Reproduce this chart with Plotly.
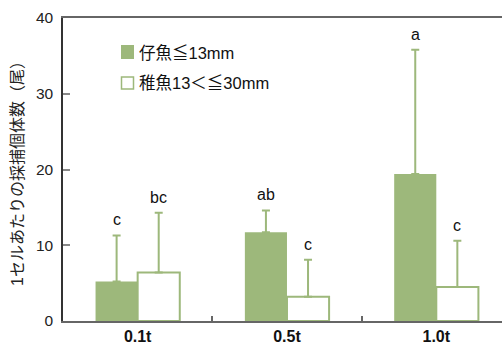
import plotly.graph_objects as go

categories = ["0.1t", "0.5t", "1.0t"]
larva_vals = [5.2, 11.7, 19.4]
larva_err = [6.1, 2.9, 16.4]
juv_vals = [6.4, 3.2, 4.5]
juv_err = [7.9, 4.9, 6.1]
larva_letters = ["c", "ab", "a"]
juv_letters = ["bc", "c", "c"]
series_names = ["仔魚≦13mm", "稚魚13＜≦30mm"]
y_ticks = [0, 10, 20, 30, 40]

GREEN = "#9db87b"
FONT = "Liberation Sans, Noto Sans CJK JP, sans-serif"

# plot area in pixels (for placing the hand-drawn legend)
L, R, T, B = 63, 502, 18, 321
def px(x):
    return (x - L) / (R - L)
def py(y):
    return (B - y) / (B - T)

fig = go.Figure()
fig.add_trace(go.Bar(
    x=categories, y=larva_vals, name=series_names[0], showlegend=False,
    marker=dict(color=GREEN, line=dict(color=GREEN, width=0)),
    error_y=dict(type="data", array=larva_err, arrayminus=[0]*3, symmetric=False,
                 color=GREEN, thickness=2, width=4),
))
fig.add_trace(go.Bar(
    x=categories, y=juv_vals, name=series_names[1], showlegend=False,
    marker=dict(color="white", line=dict(color=GREEN, width=2)),
    error_y=dict(type="data", array=juv_err, arrayminus=[0]*3, symmetric=False,
                 color=GREEN, thickness=2, width=4),
))

for i, c in enumerate(categories):
    fig.add_annotation(x=c, y=larva_vals[i] + larva_err[i], text=larva_letters[i],
                       xshift=-21, yshift=5, yanchor="bottom", showarrow=False,
                       font=dict(size=16, color="#111", family=FONT))
    fig.add_annotation(x=c, y=juv_vals[i] + juv_err[i], text=juv_letters[i],
                       xshift=21, yshift=5, yanchor="bottom", showarrow=False,
                       font=dict(size=16, color="#111", family=FONT))

# hand-drawn legend
fig.add_shape(type="rect", xref="paper", yref="paper",
              x0=px(121), x1=px(134), y0=py(59), y1=py(45),
              fillcolor=GREEN, line=dict(width=0))
fig.add_shape(type="rect", xref="paper", yref="paper",
              x0=px(121.5), x1=px(133.5), y0=py(89), y1=py(77),
              fillcolor="white", line=dict(color=GREEN, width=1.5))
fig.add_annotation(xref="paper", yref="paper", x=px(137), y=py(53), text=series_names[0],
                   xanchor="left", yanchor="middle", showarrow=False,
                   font=dict(size=16.5, color="#111", family=FONT))
fig.add_annotation(xref="paper", yref="paper", x=px(137), y=py(83), text=series_names[1],
                   xanchor="left", yanchor="middle", showarrow=False,
                   font=dict(size=16.5, color="#111", family=FONT))

fig.update_layout(
    width=502, height=347,
    margin=dict(l=L, r=502 - R, t=T, b=347 - B, autoexpand=False),
    paper_bgcolor="white", plot_bgcolor="white",
    barmode="group", bargap=0.436, bargroupgap=0,
    font=dict(family=FONT, color="#111"),
    showlegend=False,
    xaxis=dict(
        type="category", range=[-0.5, 2.44], automargin=False,
        showline=True, linecolor="#666", linewidth=2, mirror=True,
        ticks="inside", tickson="boundaries", ticklen=5, tickcolor="#666", tickwidth=1.5,
        tickfont=dict(size=16, family=FONT, color="#111", weight="bold"),
        showgrid=False, zeroline=False,
    ),
    yaxis=dict(
        range=[0, 40], tickvals=y_ticks, automargin=False,
        showline=True, linecolor="#333", linewidth=1.5,
        ticks="inside", ticklen=7, tickcolor="#888", tickwidth=1.5,
        tickfont=dict(size=15.5, family=FONT, color="#222"),
        ticklabelstandoff=5,
        showgrid=False, zeroline=False,
        title=dict(text="1セルあたりの採捕個体数（尾）", standoff=8,
                   font=dict(size=16, family=FONT, color="#222")),
    ),
)

fig.write_html("out.html", config={"displayModeBar": False},
               post_script="document.body.style.margin='0';")
